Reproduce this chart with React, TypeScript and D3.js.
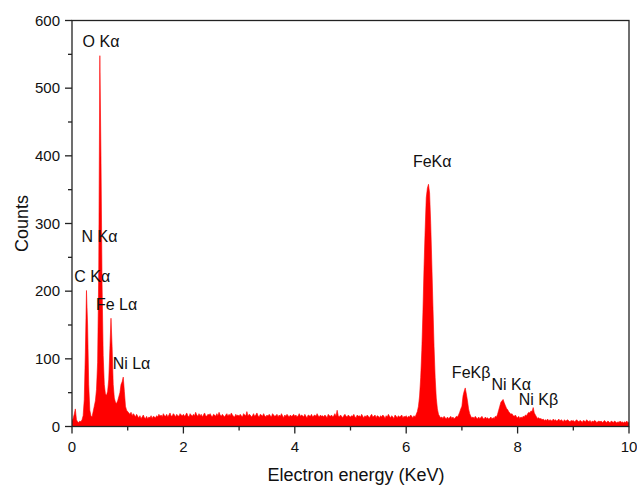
import React from "react";
import * as d3 from "d3";

// EDS spectrum: counts per 0.02 keV channel, from 0.00 to 10.00 keV
const channelWidth = 0.02;
const counts: number[] = [
  // 0.00 – 0.48
  8, 12, 18, 26, 10, 7, 6, 8, 7, 10, 16, 40, 110, 201, 150, 62, 24, 16, 14, 22, 30, 38, 55, 95, 230,
  // 0.50 – 0.98
  548, 400, 210, 105, 62, 48, 46, 52, 70, 115, 160, 118, 62, 42, 36, 34, 38, 44, 50, 62, 66, 73, 52, 30, 24,
  // 1.00 – 1.48
  22, 20, 18, 21, 16, 19, 17, 14, 18, 15, 13, 16, 12, 14, 17, 13, 12, 15, 11, 14, 13, 16, 12, 15, 14,
  // 1.50 – 1.98
  13, 16, 14, 18, 15, 17, 14, 19, 16, 15, 18, 14, 17, 20, 15, 16, 19, 17, 14, 18, 16, 15, 19, 17, 16,
  // 2.00 – 2.48
  18, 15, 17, 20, 16, 14, 19, 17, 15, 18, 16, 21, 17, 15, 19, 16, 18, 14, 17, 20, 16, 15, 18, 17, 19,
  // 2.50 – 2.98
  16, 14, 18, 17, 15, 19, 16, 21, 17, 15, 18, 16, 14, 17, 19, 15, 18, 16, 20, 17, 15, 14, 18, 16, 17,
  // 3.00 – 3.48
  15, 18, 16, 14, 19, 17, 16, 22, 15, 18, 17, 14, 16, 19, 15, 17, 20, 16, 14, 18, 17, 15, 19, 16, 14,
  // 3.50 – 3.98
  17, 15, 18, 16, 14, 19, 17, 15, 16, 18, 14, 17, 15, 19, 16, 13, 17, 15, 18, 16, 14, 17, 15, 16, 18,
  // 4.00 – 4.48
  15, 17, 14, 16, 19, 15, 17, 16, 14, 18, 15, 13, 17, 16, 15, 18, 14, 16, 17, 15, 19, 16, 14, 17, 15,
  // 4.50 – 4.98
  16, 14, 17, 15, 13, 18, 16, 15, 17, 14, 16, 19, 15, 24, 16, 14, 17, 15, 13, 16, 18, 15, 14, 17, 15,
  // 5.00 – 5.48
  14, 16, 15, 18, 14, 13, 17, 15, 16, 14, 18, 15, 13, 16, 14, 17, 15, 13, 16, 18, 14, 15, 17, 13, 16,
  // 5.50 – 5.98
  15, 13, 16, 14, 17, 15, 12, 16, 14, 18, 15, 13, 16, 14, 12, 17, 15, 13, 16, 14, 15, 17, 13, 15, 14,
  // 6.00 – 6.48
  16, 13, 15, 14, 17, 15, 13, 16, 14, 18, 22, 30, 45, 72, 112, 168, 235, 290, 338, 352, 358, 345, 300, 240, 178,
  // 6.50 – 6.98
  118, 72, 42, 26, 18, 15, 13, 14, 12, 15, 13, 11, 14, 12, 13, 15, 12, 14, 11, 13, 15, 14, 17, 21, 26,
  // 7.00 – 7.48
  30, 45, 52, 57, 48, 38, 26, 19, 15, 13, 14, 12, 15, 13, 11, 14, 12, 13, 15, 12, 11, 14, 12, 13, 11,
  // 7.50 – 7.98
  12, 14, 11, 13, 12, 15, 14, 18, 24, 30, 36, 38, 40, 35, 31, 27, 25, 22, 20, 18, 19, 16, 15, 17, 14,
  // 8.00 – 8.48
  13, 15, 12, 14, 13, 15, 14, 17, 16, 19, 21, 20, 23, 22, 28, 20, 17, 14, 12, 13, 11, 12, 10, 11, 9,
  // 8.50 – 8.98
  10, 9, 11, 8, 10, 9, 8, 11, 9, 10, 8, 9, 11, 8, 10, 9, 7, 10, 8, 9, 10, 8, 7, 9, 8,
  // 9.00 – 9.48
  9, 7, 8, 10, 8, 7, 9, 8, 6, 9, 8, 7, 10, 8, 7, 9, 6, 8, 7, 9, 8, 6, 7, 8, 7,
  // 9.50 – 10.00
  8, 6, 7, 9, 7, 6, 8, 7, 5, 8, 7, 6, 8, 7, 5, 7, 6, 8, 6, 7, 5, 7, 6, 8, 6, 6,
];

const xTicks = [0, 2, 4, 6, 8, 10];
const xMinorTicks = [1, 3, 5, 7, 9];
const yTicks = [0, 100, 200, 300, 400, 500, 600];
const yMinorTicks = [50, 150, 250, 350, 450, 550];

// Emission line labels: text, energy (keV) and count level of the label baseline
const peakLabels = ["O K\u03b1", "N K\u03b1", "C K\u03b1", "Fe L\u03b1", "Ni L\u03b1", "FeK\u03b1", "FeK\u03b2", "Ni K\u03b1", "Ni K\u03b2"];
const peakLabelEnergy = [0.19, 0.17, 0.04, 0.43, 0.73, 6.12, 6.82, 7.53, 8.02];
const peakLabelCounts = [561, 273, 213, 172, 85, 383, 72, 54, 32];

const W = 637;
const H = 486;
const M = { left: 72, right: 8, top: 20.5, bottom: 59.5 };

export default function App() {
  const x = d3.scaleLinear().domain([0, 10]).range([M.left, W - M.right]);
  const y = d3.scaleLinear().domain([0, 600]).range([H - M.bottom, M.top]);

  const pts: [number, number][] = counts.map((c, i) => [i * channelWidth, c]);
  const area = d3
    .area<[number, number]>()
    .x((d) => x(d[0]))
    .y0(y(0))
    .y1((d) => y(d[1]))
    .curve(d3.curveLinear);

  const font = "'Liberation Sans', Arial, sans-serif";
  const axisColor = "#222";
  const x0 = x(0);
  const x1 = x(10);
  const yb = y(0);
  const yt = y(600);

  return (
    <div style={{ position: "fixed", left: 0, top: 0 }}>
      <svg width={W} height={H} style={{ display: "block", background: "#fff" }} fontFamily={font}>
        <defs>
          <clipPath id="plot">
            <rect x={x0} y={yt} width={x1 - x0} height={yb - yt} />
          </clipPath>
        </defs>
        <path d={area(pts) || ""} fill="#ff0000" stroke="#ff0000" strokeWidth={0.6} clipPath="url(#plot)" />

        {/* frame */}
        <rect x={x0} y={yt} width={x1 - x0} height={yb - yt} fill="none" stroke={axisColor} strokeWidth={1.3} />

        {/* x axis ticks */}
        {xTicks.map((t) => (
          <g key={"xt" + t}>
            <line x1={x(t)} x2={x(t)} y1={yb} y2={yb + 7} stroke={axisColor} strokeWidth={1.3} />
            <text x={x(t)} y={yb + 25} fontSize={15} textAnchor="middle" fill="#111">
              {t}
            </text>
          </g>
        ))}
        {xMinorTicks.map((t) => (
          <line key={"xm" + t} x1={x(t)} x2={x(t)} y1={yb} y2={yb + 4} stroke={axisColor} strokeWidth={1.3} />
        ))}

        {/* y axis ticks */}
        {yTicks.map((t) => (
          <g key={"yt" + t}>
            <line x1={x0 - 7} x2={x0} y1={y(t)} y2={y(t)} stroke={axisColor} strokeWidth={1.3} />
            <text x={x0 - 12} y={y(t) + 5.3} fontSize={15} textAnchor="end" fill="#111">
              {t}
            </text>
          </g>
        ))}
        {yMinorTicks.map((t) => (
          <line key={"ym" + t} x1={x0 - 4} x2={x0} y1={y(t)} y2={y(t)} stroke={axisColor} strokeWidth={1.3} />
        ))}

        {/* axis titles */}
        <text x={356} y={481} fontSize={18} textAnchor="middle" fill="#111">
          Electron energy (KeV)
        </text>
        <text transform={`translate(28,${223.5}) rotate(-90)`} fontSize={18} textAnchor="middle" fill="#111">
          Counts
        </text>

        {/* peak labels */}
        {peakLabels.map((label, i) => (
          <text key={label} x={x(peakLabelEnergy[i])} y={y(peakLabelCounts[i])} fontSize={16} fill="#111">
            {label}
          </text>
        ))}
      </svg>
    </div>
  );
}
